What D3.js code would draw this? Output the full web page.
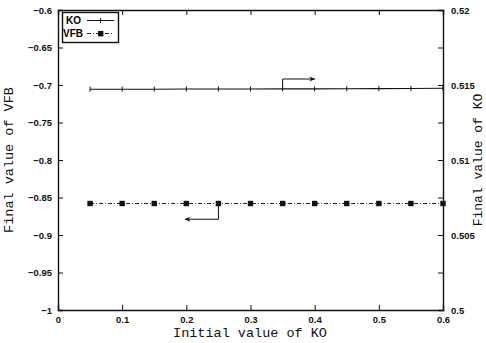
<!DOCTYPE html>
<html>
<head>
<meta charset="utf-8">
<script src="https://cdn.jsdelivr.net/npm/d3@7"></script>
<style>
  body { margin: 0; background: #fff; }
  svg { display: block; }
</style>
</head>
<body>
<svg width="486" height="343"></svg>
<script>
// initial value of KO (x), final VFB (left axis) and final KO (right axis)
const koInit = [0.05, 0.1, 0.15, 0.2, 0.25, 0.3, 0.35, 0.4, 0.45, 0.5, 0.55, 0.6];
const vfbFinal = [-0.858, -0.858, -0.858, -0.858, -0.858, -0.858, -0.858, -0.858, -0.858, -0.858, -0.858, -0.858];
const koFinal = [0.51472, 0.51472, 0.51472, 0.51473, 0.51473, 0.51473, 0.51474, 0.51474, 0.51475, 0.51476, 0.51477, 0.51478];

const xTicks = [0, 0.1, 0.2, 0.3, 0.4, 0.5, 0.6];
const yLeftTicks = [-1, -0.95, -0.9, -0.85, -0.8, -0.75, -0.7, -0.65, -0.6];
const yRightTicks = [0.5, 0.505, 0.51, 0.515, 0.52];

const svg = d3.select("svg");
const pLeft = 58, pRight = 443, pTop = 10, pBottom = 310;

const x = d3.scaleLinear().domain([0, 0.6]).range([pLeft, pRight]);
const yL = d3.scaleLinear().domain([-1, -0.6]).range([pBottom, pTop]);
const yR = d3.scaleLinear().domain([0.5, 0.52]).range([pBottom, pTop]);

const tickFont = "Liberation Sans, Arial, sans-serif";
const labelFont = "Liberation Mono, Courier New, monospace";

// axes, ticks inward
const gx = svg.append("g").attr("transform", `translate(0,${pBottom})`)
  .call(d3.axisBottom(x).tickValues(xTicks).tickSize(-5).tickPadding(6).tickFormat(d3.format("")));
const gxt = svg.append("g").attr("transform", `translate(0,${pTop})`)
  .call(d3.axisTop(x).tickValues(xTicks).tickSize(-5).tickFormat(""));
const gl = svg.append("g").attr("transform", `translate(${pLeft},0)`)
  .call(d3.axisLeft(yL).tickValues(yLeftTicks).tickSize(-5).tickPadding(6).tickFormat(d3.format("")));
const gr = svg.append("g").attr("transform", `translate(${pRight},0)`)
  .call(d3.axisRight(yR).tickValues(d3.range(0, 9).map(i => 0.5 + i * 0.0025)).tickSize(-5).tickPadding(8)
    .tickFormat(d => yRightTicks.some(t => Math.abs(t - d) < 1e-9) ? d3.format("")(+d.toFixed(4)) : ""));

[gx, gxt, gl, gr].forEach(g => {
  g.select(".domain").attr("stroke", "#111").attr("stroke-width", 1.4);
  g.selectAll(".tick line").attr("stroke", "#111").attr("stroke-width", 1);
  g.selectAll("text").attr("font-family", tickFont).attr("font-size", "9.5px")
    .attr("font-weight", "bold").attr("fill", "#111");
});

// KO line (right axis)
const koLine = d3.line().x((d, i) => x(koInit[i])).y(d => yR(d));
svg.append("path").datum(koFinal).attr("d", koLine)
  .attr("fill", "none").attr("stroke", "#111").attr("stroke-width", 1.1);
svg.selectAll(".koMark").data(koFinal).enter().append("line")
  .attr("x1", (d, i) => x(koInit[i])).attr("x2", (d, i) => x(koInit[i]))
  .attr("y1", d => yR(d) - 2.5).attr("y2", d => yR(d) + 2.5)
  .attr("stroke", "#111").attr("stroke-width", 1);

// VFB line (left axis)
const vfbLine = d3.line().x((d, i) => x(koInit[i])).y(d => yL(d));
svg.append("path").datum(vfbFinal).attr("d", vfbLine)
  .attr("fill", "none").attr("stroke", "#222").attr("stroke-width", 1)
  .attr("stroke-dasharray", "4,2,1,2");
svg.selectAll(".vfbMark").data(vfbFinal).enter().append("rect")
  .attr("x", (d, i) => x(koInit[i]) - 2.7).attr("y", d => yL(d) - 2.7)
  .attr("width", 5.4).attr("height", 5.4).attr("fill", "#111");

// arrows pointing to each curve's axis
svg.append("defs").append("marker").attr("id", "ah")
  .attr("viewBox", "0 0 10 10").attr("refX", 9).attr("refY", 5)
  .attr("markerWidth", 10).attr("markerHeight", 6).attr("orient", "auto")
  .attr("markerUnits", "userSpaceOnUse")
  .append("path").attr("d", "M0,1 L10,5 L0,9 L3,5 Z").attr("fill", "#111");

const koArrowY = yR(0.5154);
svg.append("path")
  .attr("d", `M${x(0.35)},${yR(koFinal[6])} L${x(0.35)},${koArrowY} L${x(0.4)},${koArrowY}`)
  .attr("fill", "none").attr("stroke", "#111").attr("stroke-width", 1).attr("marker-end", "url(#ah)");
const vfbArrowY = yL(-0.879);
svg.append("path")
  .attr("d", `M${x(0.25)},${yL(vfbFinal[4])} L${x(0.25)},${vfbArrowY} L${x(0.198)},${vfbArrowY}`)
  .attr("fill", "none").attr("stroke", "#111").attr("stroke-width", 1).attr("marker-end", "url(#ah)");

// legend
const lg = svg.append("g");
lg.append("rect").attr("x", 62.5).attr("y", 12.5).attr("width", 56).attr("height", 30)
  .attr("fill", "#fff").attr("stroke", "#111").attr("stroke-width", 1.4);
lg.append("text").attr("x", 66).attr("y", 24).text("KO")
  .attr("font-family", tickFont).attr("font-size", "10px").attr("font-weight", "bold");
lg.append("text").attr("x", 63).attr("y", 37).text("VFB")
  .attr("font-family", tickFont).attr("font-size", "10px").attr("font-weight", "bold");
lg.append("line").attr("x1", 87).attr("x2", 114).attr("y1", 20.5).attr("y2", 20.5)
  .attr("stroke", "#111").attr("stroke-width", 1);
lg.append("line").attr("x1", 100.5).attr("x2", 100.5).attr("y1", 18).attr("y2", 23)
  .attr("stroke", "#111");
lg.append("line").attr("x1", 87).attr("x2", 114).attr("y1", 33.5).attr("y2", 33.5)
  .attr("stroke", "#222").attr("stroke-dasharray", "4,2,1,2");
lg.append("rect").attr("x", 98).attr("y", 31).attr("width", 5.4).attr("height", 5.4).attr("fill", "#111");

// axis titles
svg.append("text").attr("x", (pLeft + pRight) / 2 - 0.5).attr("y", 337).attr("text-anchor", "middle")
  .attr("font-family", labelFont).attr("font-size", "13.5px").attr("fill", "#111")
  .text("Initial value of KO");
svg.append("text").attr("transform", `translate(13,${(pTop + pBottom) / 2}) rotate(-90)`)
  .attr("text-anchor", "middle").attr("font-family", labelFont).attr("font-size", "13.5px").attr("fill", "#111")
  .text("Final value of VFB");
svg.append("text").attr("transform", `translate(482,${(pTop + pBottom) / 2}) rotate(-90)`)
  .attr("text-anchor", "middle").attr("font-family", labelFont).attr("font-size", "13px").attr("fill", "#111")
  .text("Final value of KO");
</script>
</body>
</html>
